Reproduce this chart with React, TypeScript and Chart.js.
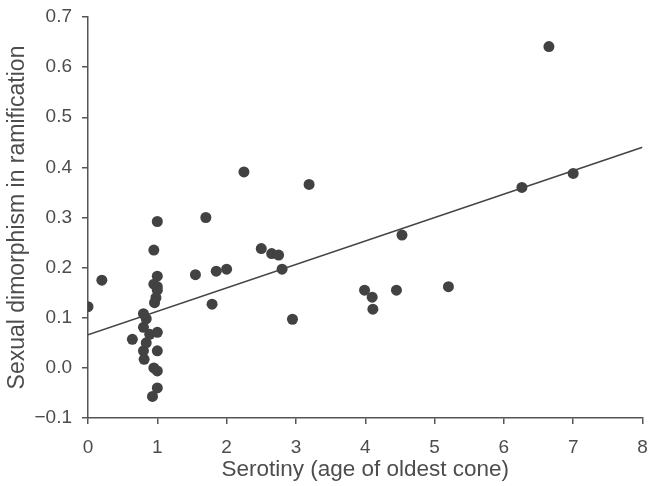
import { useEffect, useRef } from "react";
import { Chart, registerables } from "chart.js";

Chart.register(...registerables);

const serotiny = [
  0, 0.2, 0.64, 0.8, 0.84, 0.8, 0.89, 0.84, 0.8, 0.81, 0.93, 0.95, 0.95, 0.95,
  1.0, 1.0, 1.0, 1.0, 0.98, 0.96, 1.0, 1.0, 1.0, 1.0, 1.55, 1.7, 1.79, 1.85,
  2.0, 2.25, 2.5, 2.65, 2.75, 2.8, 2.95, 3.19, 3.99, 4.1, 4.11, 4.45, 4.53,
  5.2, 6.26, 6.65, 7.0,
];
const dimorphism = [
  0.122, 0.175, 0.057, 0.108, 0.098, 0.081, 0.067, 0.05, 0.034, 0.017, -0.057,
  0.0, 0.235, 0.167, 0.292, 0.183, 0.162, 0.155, 0.14, 0.13, 0.071, 0.034,
  -0.006, -0.04, 0.186, 0.3, 0.127, 0.193, 0.197, 0.391, 0.238, 0.228, 0.225,
  0.197, 0.097, 0.366, 0.155, 0.141, 0.117, 0.155, 0.265, 0.162, 0.36, 0.641,
  0.388,
];
const fitX = [0, 8];
const fitY = [0.066, 0.44];

const xTitle = "Serotiny (age of oldest cone)";
const yTitle = "Sexual dimorphism in ramification";

export default function App() {
  const ref = useRef<HTMLCanvasElement | null>(null);
  useEffect(() => {
    document.body.style.margin = "0";
    const ctx = ref.current!;
    const font = "'Liberation Sans', Arial, Helvetica, sans-serif";
    const textColor = "#4d4d4d";
    const axisColor = "#555555";
    const chart = new Chart(ctx, {
      type: "scatter",
      data: {
        datasets: [
          {
            type: "line",
            data: fitX.map((x, i) => ({ x, y: fitY[i] })),
            borderColor: "#444444",
            borderWidth: 1.6,
            pointRadius: 0,
            fill: false,
            order: 2,
          } as any,
          {
            data: serotiny.map((x, i) => ({ x, y: dimorphism[i] })),
            backgroundColor: "#424242",
            borderColor: "#424242",
            borderWidth: 0,
            pointRadius: 5.5,
            order: 1,
          },
        ],
      },
      options: {
        responsive: false,
        animation: false,
        layout: { padding: { top: 17, right: 4, left: 0, bottom: 0 } },
        plugins: { legend: { display: false }, tooltip: { enabled: false } },
        scales: {
          x: {
            type: "linear",
            min: 0,
            max: 8,
            border: { display: true, color: axisColor, width: 1.5 },
            grid: {
              display: true,
              drawOnChartArea: false,
              drawTicks: true,
              tickLength: 6,
              color: axisColor,
              lineWidth: 1.5,
            },
            ticks: {
              stepSize: 1,
              color: textColor,
              padding: 12,
              font: { family: font, size: 19 },
            },
            title: {
              display: true,
              text: xTitle,
              color: textColor,
              font: { family: font, size: 22.5 },
              padding: { top: 0, bottom: 3 },
            },
            afterFit: (s: any) => {
              s.height = 68;
              s.paddingLeft = 0;
              s.paddingRight = 0;
            },
          },
          y: {
            type: "linear",
            min: -0.1,
            max: 0.7,
            border: { display: true, color: axisColor, width: 1.5 },
            grid: {
              display: true,
              drawOnChartArea: false,
              drawTicks: true,
              tickLength: 6,
              color: axisColor,
              lineWidth: 1.5,
            },
            ticks: {
              stepSize: 0.1,
              color: textColor,
              padding: 10,
              font: { family: font, size: 19 },
              callback: (v: any) => {
                const n = Number(v);
                const s = Math.abs(n).toFixed(1);
                return n < -1e-9 ? "\u2212" + s : s;
              },
            },
            title: {
              display: true,
              text: yTitle,
              color: textColor,
              font: { family: font, size: 23 },
              padding: { top: 4, bottom: 0 },
            },
            afterFit: (s: any) => {
              s.width = 88;
              s.paddingTop = 0;
              s.paddingBottom = 0;
            },
          },
        },
      },
    });
    return () => chart.destroy();
  }, []);
  return (
    <div style={{ position: "absolute", left: 0, top: 0, width: 648, height: 486 }}>
      <canvas ref={ref} width={648} height={486} style={{ width: 648, height: 486 }} />
    </div>
  );
}
